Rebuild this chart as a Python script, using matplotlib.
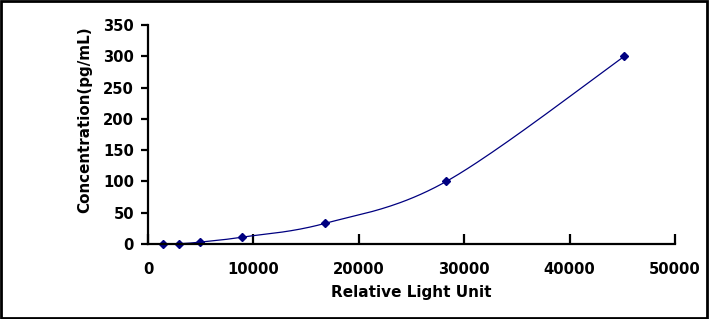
import matplotlib
matplotlib.use("Agg")
import matplotlib.pyplot as plt
import numpy as np
from matplotlib.patches import Rectangle

# standard curve points
rlu = [1450, 2950, 4950, 8950, 16800, 28300, 45200]
conc = [0, 0.5, 3, 11, 33, 100, 300]

x_ticks = [0, 10000, 20000, 30000, 40000, 50000]
y_ticks = [0, 50, 100, 150, 200, 250, 300, 350]


def smooth_line(xs, ys, n=40):
    # excel style smoothing: catmull-rom segments as cubic bezier
    p = np.column_stack([xs, ys]).astype(float)
    p = np.vstack([p[0], p, p[-1]])
    out = []
    t = np.linspace(0, 1, n)[:, None]
    for i in range(1, len(p) - 2):
        p0, p1, p2, p3 = p[i - 1], p[i], p[i + 1], p[i + 2]
        b1 = p1 + (p2 - p0) / 6.0
        b2 = p2 - (p3 - p1) / 6.0
        seg = ((1 - t) ** 3) * p1 + 3 * ((1 - t) ** 2) * t * b1 + 3 * (1 - t) * t ** 2 * b2 + t ** 3 * p2
        out.append(seg)
    out = np.vstack(out)
    return out[:, 0], out[:, 1]


plt.rcParams['font.family'] = ['DejaVu Sans']
fig = plt.figure(figsize=(7.09, 3.19), dpi=100)
ax = fig.add_axes([148 / 709, 1 - 244 / 319, 527 / 709, 219 / 319])

sx, sy = smooth_line(rlu, conc)
ax.plot(sx, sy, color="#000080", linewidth=0.9, clip_on=False)
ax.plot(rlu, conc, linestyle="none", marker="D", markersize=4, color="#000080", clip_on=False)

ax.set_xlim(0, 50000)
ax.set_ylim(0, 350)
ax.set_xticks(x_ticks)
ax.set_yticks(y_ticks)
ax.spines['top'].set_visible(False)
ax.spines['right'].set_visible(False)
ax.spines['left'].set_linewidth(1.6)
ax.spines['bottom'].set_linewidth(1.6)
ax.tick_params(axis='x', direction='in', length=7, width=1.6, pad=13, labelsize=10.6)
ax.tick_params(axis='y', direction='out', length=5, width=1.6, pad=5, labelsize=10.6)
for lab in ax.get_xticklabels() + ax.get_yticklabels():
    lab.set_fontweight('bold')

ax.set_xlabel("Relative Light Unit", fontsize=11, fontweight='bold', labelpad=6)
ax.set_ylabel("Concentration(pg/mL)", fontsize=10.9, fontweight='bold')
ax.yaxis.set_label_coords(-0.106, 0.566)

fig.patches.append(Rectangle((0.002, 0.003), 0.995, 0.993, transform=fig.transFigure,
                             fill=False, edgecolor='black', linewidth=2))

fig.savefig("out.png", dpi=100)
